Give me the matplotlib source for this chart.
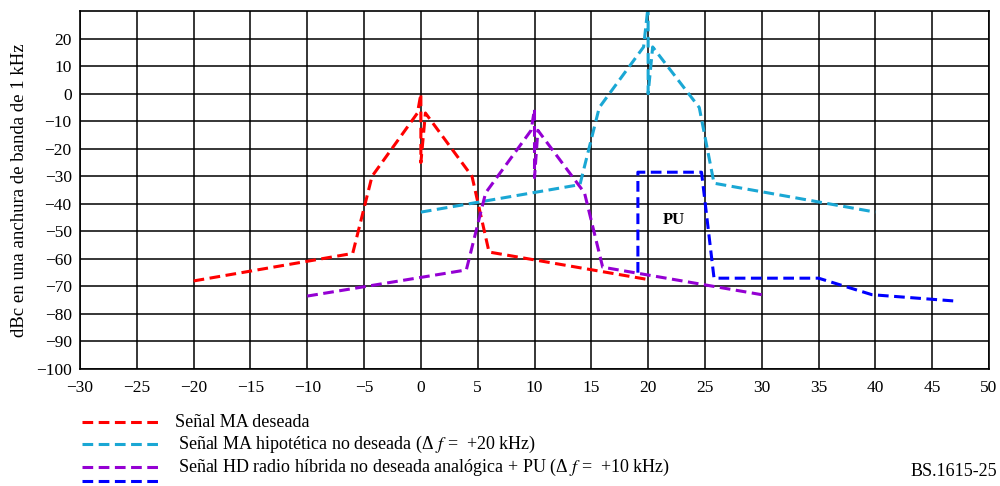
import matplotlib
matplotlib.use("Agg")
import matplotlib.pyplot as plt
from matplotlib.lines import Line2D

plt.rcParams['font.family'] = ['Liberation Serif', 'DejaVu Serif']
plt.rcParams['mathtext.fontset'] = 'stix'

# Data (frequency offset kHz, level dBc)
red_x = [-20, -6, -4.3, -0.3, 0, 0, 0.4, 4.5, 6, 20]
red_y = [-68, -58, -30, -7, 0, -25, -7, -30, -57.5, -67.5]
cyan_x = [0, 14, 15.7, 19.6, 20, 20, 20.4, 24.5, 25.8, 40]
cyan_y = [-43, -33, -5, 17, 32, 0, 17, -5, -32.5, -43]
purple_x = [-10, 4, 5.7, 9.7, 10, 10, 10.3, 14.4, 16, 30]
purple_y = [-73.5, -64, -36, -13.3, -5.6, -30.5, -13.3, -36, -63, -73]
blue_x = [19.1, 19.1, 24.7, 25.8, 35, 39.7, 47]
blue_y = [-65, -28.5, -28.5, -67, -67, -73, -75.3]

xticks = list(range(-30, 51, 5))
yticks = list(range(-100, 21, 10))

labels = ["Señal MA deseada",
          "Señal MA hipotética no deseada (Δ $f$ =  +20 kHz)",
          "Señal HD radio híbrida no deseada analógica + PU (Δ $f$ =  +10 kHz)"]

c_red = "#ff0000"
c_cyan = "#1aa7d4"
c_purple = "#9400d3"
c_blue = "#0000ff"

fig = plt.figure(figsize=(10, 4.86), dpi=100)
ax = fig.add_axes([0.08, 0.2407, 0.909, 0.7363])

dash = (0, (3.5, 1.8))
lw = 2.2
ax.plot(red_x, red_y, color=c_red, lw=lw, linestyle=dash)
ax.plot(cyan_x, cyan_y, color=c_cyan, lw=lw, linestyle=dash)
ax.plot(purple_x, purple_y, color=c_purple, lw=lw, linestyle=dash)
ax.plot(blue_x, blue_y, color=c_blue, lw=lw, linestyle=dash)

ax.text(22.3, -46, "PU", fontsize=12, fontweight='bold', ha='center', va='center')

ax.set_xlim(-30, 50)
ax.set_ylim(-100, 30)
ax.set_xticks(xticks)
ax.set_yticks(yticks)
ax.set_xticklabels([str(v).replace('-', '\u2212') for v in xticks])
ax.set_yticklabels([str(v).replace('-', '\u2212') for v in yticks])
ax.tick_params(length=0, labelsize=12.5)
ax.tick_params(axis='x', pad=8)
ax.tick_params(axis='y', pad=6)
ax.grid(True, color='black', lw=1.1)
for s in ax.spines.values():
    s.set_linewidth(1.2)
ax.set_ylabel("dBc en una anchura de banda de 1 kHz", fontsize=13.5, labelpad=6)

W, H = 1000.0, 486.0
def fx(px):
    return px / W
def fy(py):
    return 1 - py / H

legend_rows = [(422, c_red, labels[0], 175),
               (444, c_cyan, labels[1], 178),
               (467, c_purple, labels[2], 178)]
for py, col, lab, tx in legend_rows:
    fig.add_artist(Line2D([fx(82), fx(160)], [fy(py), fy(py)], color=col, lw=lw,
                          linestyle=dash, transform=fig.transFigure))
    fig.text(fx(tx), fy(py), lab, fontsize=13, va='center', ha='left')
fig.add_artist(Line2D([fx(82), fx(160)], [fy(481), fy(481)], color=c_blue, lw=lw,
                      linestyle=dash, transform=fig.transFigure))

fig.text(fx(997), fy(471), "BS.1615-25", fontsize=13, va='center', ha='right')

fig.savefig("out.png", dpi=100)
